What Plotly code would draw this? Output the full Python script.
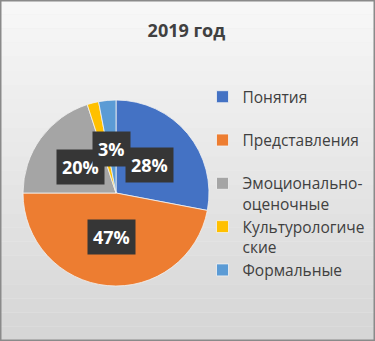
import math
import plotly.graph_objects as go

# Data
categories = ["Понятия<br> ", "Представления<br> ", "Эмоционально-<br>оценочные", "Культурологиче<br>ские", "Формальные"]
values = [28, 47, 20, 2, 3]
labels_shown = ["28%", "47%", "20%", "", "3%"]
colors = ["#4472C4", "#ED7D31", "#A5A5A5", "#FFC000", "#5B9BD5"]
title = "2019 год"

W, H = 375, 341
# pie geometry (pixels)
cx, cy, r = 116, 193, 93
dom_x = [(cx - r) / W, (cx + r) / W]
dom_y = [(H - (cy + r)) / H, (H - (cy - r)) / H]

fig = go.Figure()
fig.add_trace(go.Pie(
    labels=categories,
    values=values,
    sort=False,
    direction="clockwise",
    rotation=0,
    marker=dict(colors=colors, line=dict(color="#f2f2f2", width=0.8)),
    textinfo="none",
    hoverinfo="label+percent",
    domain=dict(x=dom_x, y=dom_y),
))

# background gradient bands
shapes = []
n = 24
top = (247, 247, 247)
bot = (214, 214, 214)
for i in range(n):
    t = i / (n - 1)
    c = tuple(int(round(top[k] + (bot[k] - top[k]) * t)) for k in range(3))
    shapes.append(dict(type="rect", xref="paper", yref="paper",
                       x0=0, x1=1, y0=1 - (i + 1) / n, y1=1 - i / n,
                       fillcolor="rgb(%d,%d,%d)" % c, line=dict(width=0), layer="below"))
shapes.append(dict(type="rect", xref="paper", yref="paper", x0=0.002, x1=0.998, y0=0.002, y1=0.998,
                   line=dict(color="#8a8a8a", width=1.5), fillcolor="rgba(0,0,0,0)", layer="above"))

# data labels at mid-angle of each slice
annotations = []
total = sum(values)
cum = 0
for i in range(len(values)):
    v = values[i]
    mid = (cum + v / 2) / total * 2 * math.pi
    cum += v
    if not labels_shown[i]:
        continue
    px = cx + 0.47 * r * math.sin(mid)
    py = cy - 0.47 * r * math.cos(mid)
    annotations.append(dict(
        x=px / W, y=(H - py) / H, xref="paper", yref="paper",
        text="<b>%s</b>" % labels_shown[i], showarrow=False,
        font=dict(family="Open Sans", size=18, color="white"),
        bgcolor="#363636", borderpad=5, xanchor="center", yanchor="middle",
    ))

fig.update_layout(
    width=W, height=H,
    margin=dict(l=0, r=0, t=0, b=0),
    paper_bgcolor="#ececec",
    title=dict(text="<b>%s</b>" % title, x=0.497, xanchor="center", y=0.91, yanchor="middle",
               font=dict(family="Open Sans", size=18, color="#404040")),
    showlegend=True,
    legend=dict(x=0.54, xanchor="left", y=0.765, yanchor="top",
                font=dict(family="Open Sans", size=15.5, color="#404040"),
                bgcolor="rgba(0,0,0,0)", itemwidth=30, valign="top",
                tracegroupgap=0),
    shapes=shapes,
    annotations=annotations,
)

fig.write_html("out.html", config={"displayModeBar": False},
               post_script="document.body.style.margin='0';document.body.style.overflow='hidden';")
